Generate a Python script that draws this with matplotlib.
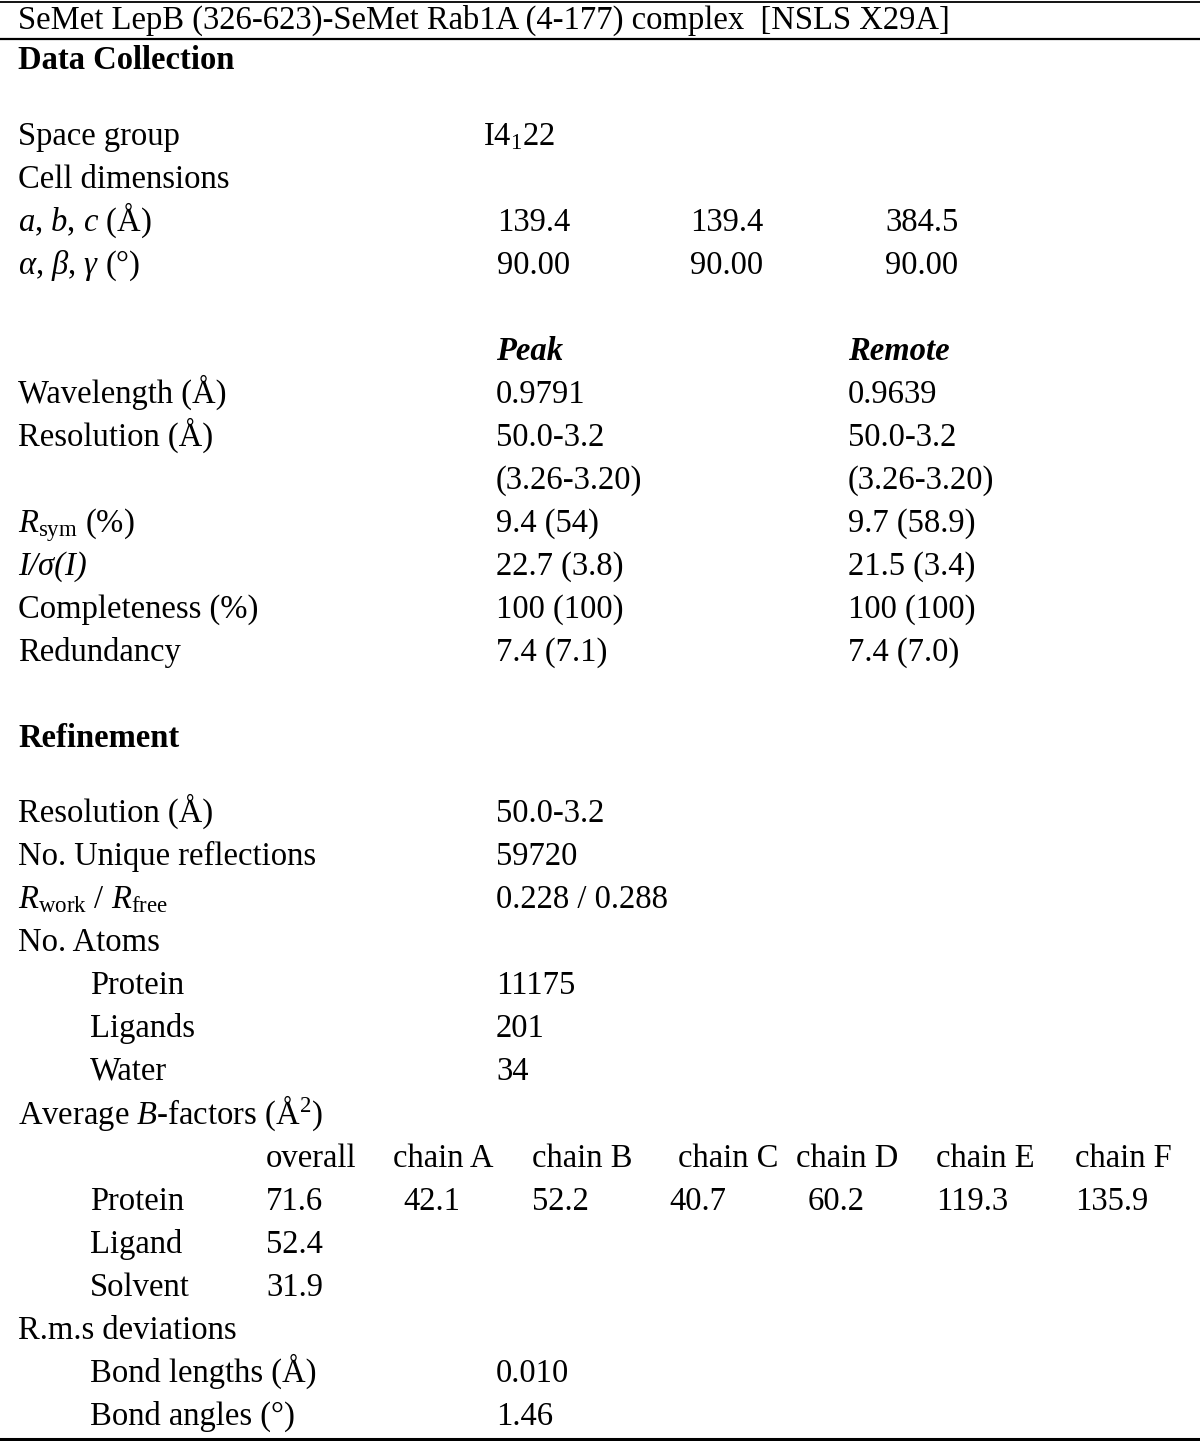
import matplotlib.pyplot as plt

plt.rcParams['font.family'] = ['Liberation Serif', 'DejaVu Serif']
plt.rcParams['mathtext.fontset'] = 'custom'
plt.rcParams['mathtext.rm'] = 'Liberation Serif'
plt.rcParams['mathtext.it'] = 'Liberation Serif:italic'
plt.rcParams['mathtext.bf'] = 'Liberation Serif:bold'

# ---- table content ----
title = "SeMet LepB (326-623)-SeMet Rab1A (4-177) complex  [NSLS X29A]"
space_group = r"I4$_{\mathrm{1}}$22"
cell_lengths = ["139.4", "139.4", "384.5"]
cell_angles = ["90.00", "90.00", "90.00"]

datasets = ["Peak", "Remote"]
collect_labels = ["Wavelength (Å)", "Resolution (Å)", "",
                  r"$R_{\mathrm{sym}}$ (%)", "I/σ(I)", "Completeness (%)", "Redundancy"]
peak_vals = ["0.9791", "50.0-3.2", "(3.26-3.20)", "9.4 (54)", "22.7 (3.8)", "100 (100)", "7.4 (7.1)"]
remote_vals = ["0.9639", "50.0-3.2", "(3.26-3.20)", "9.7 (58.9)", "21.5 (3.4)", "100 (100)", "7.4 (7.0)"]

refine_labels = ["Resolution (Å)", "No. Unique reflections",
                 r"$R_{\mathrm{work}}$ / $R_{\mathrm{free}}$", "No. Atoms"]
refine_vals = ["50.0-3.2", "59720", "0.228 / 0.288", ""]
atom_labels = ["Protein", "Ligands", "Water"]
atom_counts = ["11175", "201", "34"]

b_columns = ["overall", "chain A", "chain B", "chain C", "chain D", "chain E", "chain F"]
b_protein = ["71.6", "42.1", "52.2", "40.7", "60.2", "119.3", "135.9"]
b_other_labels = ["Ligand", "Solvent"]
b_other = ["52.4", "31.9"]

rms_labels = ["Bond lengths (Å)", "Bond angles (°)"]
rms_vals = ["0.010", "1.46"]

# ---- layout ----
W, H = 1200, 1441
fig = plt.figure(figsize=(12, 14.41), dpi=100)
ax = fig.add_axes([0, 0, 1, 1])
ax.set_xlim(0, W)
ax.set_ylim(H, 0)
ax.axis('off')

FS = 23.5
XL, XI = 18, 90          # label / indented label
XV = [497, 690, 885]     # value columns
XD = [496, 848]          # peak / remote columns
XB_head = [266, 393, 532, 678, 796, 936, 1075]
XB_val = [266, 403, 532, 669, 808, 936, 1075]


def put(x, yc, s, **kw):
    ax.text(x, yc + 11, s, fontsize=FS, va='baseline', ha='left', **kw)


# rules
ax.plot([0, W], [1.5, 1.5], color='black', lw=1.3)
ax.plot([0, W], [39, 39], color='black', lw=1.6)
ax.plot([0, W], [1439, 1439], color='black', lw=2.2)

put(XL, 18, title)
put(XL, 58, "Data Collection", fontweight='bold')
put(XL, 134, "Space group")
put(483, 134, space_group)
put(XL, 177, "Cell dimensions")
put(XL, 220, r"$a$, $b$, $c$ (Å)")
for x, v in zip(XV, cell_lengths):
    put(x, 220, v)
put(XL, 263, r"$α$, $β$, $γ$ (°)")
for x, v in zip(XV, cell_angles):
    put(x, 263, v)

for x, d in zip(XD, datasets):
    put(x, 349, d, fontweight='bold', style='italic')

y = 392
for lab, p, r in zip(collect_labels, peak_vals, remote_vals):
    put(XL, y, lab, style='italic' if lab == "I/σ(I)" else 'normal')
    put(XD[0], y, p)
    put(XD[1], y, r)
    y += 43

put(XL, 736, "Refinement", fontweight='bold')
y = 811
for lab, v in zip(refine_labels, refine_vals):
    put(XL, y, lab)
    put(XD[0], y, v)
    y += 43
for lab, v in zip(atom_labels, atom_counts):
    put(XI, y, lab)
    put(XD[0], y, v)
    y += 43

put(XL, 1113, r"Average $B$-factors (Å$^{\mathrm{2}}$)")
for x, c in zip(XB_head, b_columns):
    put(x, 1156, c)
put(XI, 1199, "Protein")
for x, v in zip(XB_val, b_protein):
    put(x, 1199, v)
y = 1242
for lab, v in zip(b_other_labels, b_other):
    put(XI, y, lab)
    put(XB_val[0], y, v)
    y += 43

put(XL, 1328, "R.m.s deviations")
y = 1371
for lab, v in zip(rms_labels, rms_vals):
    put(XI, y, lab)
    put(XD[0], y, v)
    y += 43

fig.savefig("out.png", dpi=100)
